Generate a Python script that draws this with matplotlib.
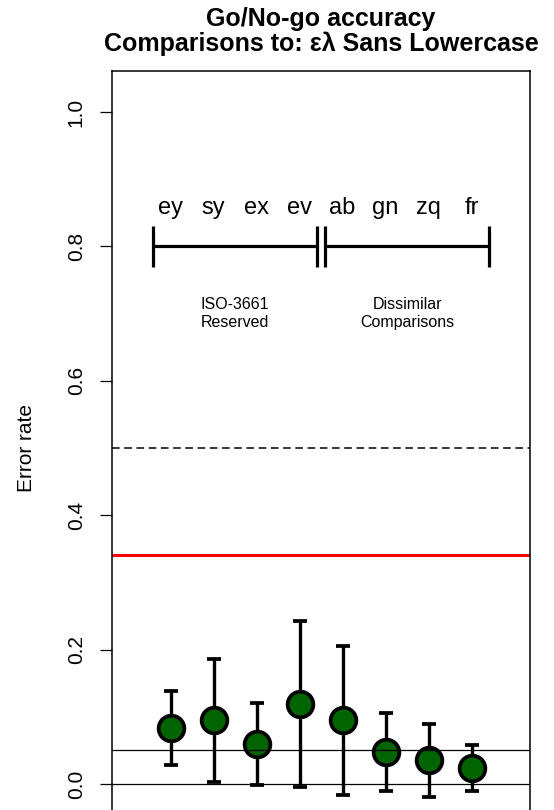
import numpy as np
import matplotlib
matplotlib.use('Agg')
import matplotlib.pyplot as plt

plt.rcParams['font.family'] = ['Liberation Sans', 'DejaVu Sans']

# ---------------------
# Data
# ---------------------
pairs = ['ey', 'sy', 'ex', 'ev', 'ab', 'gn', 'zq', 'fr']
error_rate = [0.083, 0.095, 0.060, 0.119, 0.095, 0.048, 0.036, 0.024]
ci_upper = [0.138, 0.186, 0.121, 0.242, 0.206, 0.106, 0.090, 0.058]
ci_lower = [0.028, 0.003, -0.002, -0.004, -0.016, -0.011, -0.019, -0.010]
chance_level = 0.5
baseline_rate = 0.341
ref_levels = [0.0, 0.05]
group_names = ['ISO-3661\nReserved', 'Dissimilar\nComparisons']
group_spans = [(0.6, 4.4), (4.6, 8.4)]

x = np.arange(1, len(pairs) + 1)
err = np.array([np.array(error_rate) - np.array(ci_lower),
                np.array(ci_upper) - np.array(error_rate)])

# ---------------------
# Plot
# ---------------------
fig = plt.figure(figsize=(5.54, 8.10), dpi=100)
ax = fig.add_axes([0.2022, -0.019, 0.7545, 0.9319])

ax.axhline(chance_level, color='black', lw=1.1, ls=(0, (5, 3)), zorder=1)
ax.axhline(baseline_rate, color='red', lw=2.2, zorder=1)

ax.errorbar(x, error_rate, yerr=err, fmt='o', color='black', ecolor='black',
            elinewidth=2.4, capsize=5, capthick=2.4, markersize=18.5,
            markerfacecolor='darkgreen', markeredgecolor='black',
            markeredgewidth=2.7, zorder=3)

for lv in ref_levels:
    ax.axhline(lv, color='black', lw=0.9, zorder=4)

# bracket labels
for i, p in enumerate(pairs):
    ax.text(x[i], 0.857, p, ha='center', va='center', fontsize=17)

for (a, b), name in zip(group_spans, group_names):
    ax.plot([a, b], [0.8, 0.8], color='black', lw=2.3, solid_capstyle='butt')
    ax.plot([a, a], [0.77, 0.83], color='black', lw=2.3, solid_capstyle='butt')
    ax.plot([b, b], [0.77, 0.83], color='black', lw=2.3, solid_capstyle='butt')
    ax.text((a + b) / 2, 0.7, name, ha='center', va='center',
            fontsize=11.5, linespacing=1.2)

ax.set_xlim(-0.36, 9.36)
ax.set_ylim(-0.0616, 1.0616)
ax.set_xticks([])
ax.set_yticks([0.0, 0.2, 0.4, 0.6, 0.8, 1.0])
ax.set_yticklabels(['0.0', '0.2', '0.4', '0.6', '0.8', '1.0'])
ax.tick_params(axis='y', length=9, width=0.9, labelsize=15, labelrotation=90, pad=10)
plt.setp(ax.get_yticklabels(), va='center')
for s in ax.spines.values():
    s.set_linewidth(1.1)
ax.spines['bottom'].set_visible(False)

ax.set_ylabel('Error rate', fontsize=15, labelpad=22)
ax.set_title('Go/No-go accuracy\nComparisons to: \u03b5\u03bb Sans Lowercase',
             fontsize=18, fontweight='bold', pad=14, linespacing=1.05)

plt.savefig('out.png', dpi=100)
